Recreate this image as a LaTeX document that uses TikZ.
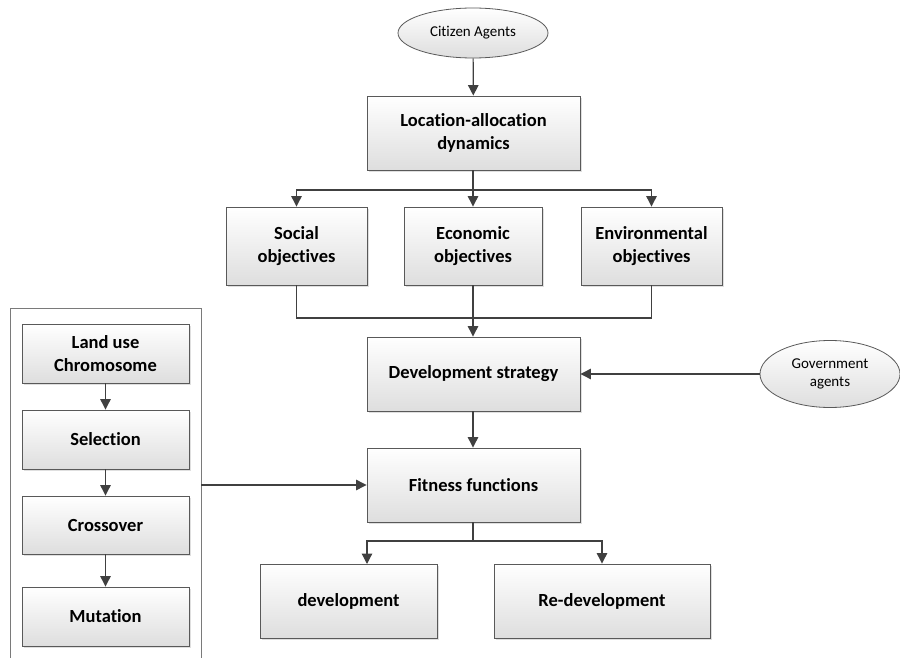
\documentclass[tikz,border=0pt]{standalone}
\usepackage{fontspec}
\setmainfont{Carlito}[RawFeature={-liga}]
\usetikzlibrary{arrows.meta,shadows,shapes.geometric}
\definecolor{lin}{HTML}{404040}
\definecolor{edge}{HTML}{595959}
\begin{document}
\begin{tikzpicture}[x=1pt,y=-1pt,
  box/.style={draw=edge, line width=0.9pt, top color=white, bottom color=black!13,
     drop shadow={opacity=0.25, shadow xshift=2pt, shadow yshift=-2pt},
     align=center, font=\fontsize{18.5}{22.5}\selectfont\bfseries, inner sep=2pt},
  oval/.style={ellipse, draw=edge, line width=0.8pt, top color=white, bottom color=black!13,
     align=center, font=\fontsize{15}{18}\selectfont, inner sep=0pt},
  arr/.style={draw=lin, line width=1.2pt, -{Triangle[length=10.5pt,width=10.5pt]}},
  ln/.style={draw=lin, line width=1.2pt}]
\useasboundingbox (0,0) rectangle (900,658);
% left panel
\node[draw=edge!80, line width=0.8pt, fill=white, minimum width=191pt, minimum height=370pt, inner sep=0pt] (panel) at (105.5,493) {};
\node[box, minimum width=167pt, minimum height=59pt] (chrom) at (105.5,353.5) {Land use\\Chromosome};
\node[box, minimum width=167pt, minimum height=59pt] (sel) at (105.5,439.5) {Selection};
\node[box, minimum width=167pt, minimum height=58pt] (cross) at (105.5,525) {Crossover};
\node[box, minimum width=167pt, minimum height=59pt] (mut) at (105.5,616.5) {Mutation};
\draw[arr] (chrom) -- (sel);
\draw[arr] (sel) -- (cross);
\draw[arr] (cross) -- (mut);
% main flow
\node[oval, minimum width=150pt, minimum height=50pt] (cit) at (473,33) {Citizen Agents};
\node[box, minimum width=213pt, minimum height=74pt] (loc) at (473.5,133) {Location-allocation\\dynamics};
\node[box, minimum width=141pt, minimum height=78pt] (soc) at (296.5,246) {Social\\objectives};
\node[box, minimum width=138pt, minimum height=78pt] (eco) at (473,246) {Economic\\objectives};
\node[box, minimum width=141pt, minimum height=78pt] (env) at (651.5,246) {Environmental\\objectives};
\node[box, minimum width=213pt, minimum height=74pt] (dev) at (473.5,374) {Development strategy};
\node[oval, minimum width=140pt, minimum height=67pt] (gov) at (830,374) {Government\\agents};
\node[box, minimum width=213pt, minimum height=74pt] (fit) at (473.5,485) {Fitness functions};
\node[box, minimum width=177pt, minimum height=74pt] (d1) at (348.5,601) {development};
\node[box, minimum width=216pt, minimum height=74pt] (d2) at (602,601) {Re-development};
\coordinate (j1) at (473,190);
\coordinate (j2) at (473,318);
\coordinate (j3) at (473,541);
\coordinate (k1) at (367,564);
\draw[arr] (cit) -- (loc);
\draw[ln] (loc.south -| j1) -- (j1);
\draw[arr] (j1) -| (soc.north);
\draw[arr] (j1) -- (eco.north);
\draw[arr] (j1) -| (env.north);
\draw[ln] (soc.south) |- (j2);
\draw[ln] (env.south) |- (j2);
\draw[ln] (eco.south) -- (j2);
\draw[arr] (j2) -- (dev.north -| j2);
\draw[arr] (gov.west) -- (gov.west -| dev.east);
\draw[arr] (dev.south -| j2) -- (fit.north -| j2);
\draw[arr] (fit.west -| panel.east) -- (fit.west);
\draw[ln] (fit.south -| j3) -- (j3);
\draw[arr] (j3) -| (k1);
\draw[arr] (j3) -| (d2.north);
\end{tikzpicture}
\end{document}
